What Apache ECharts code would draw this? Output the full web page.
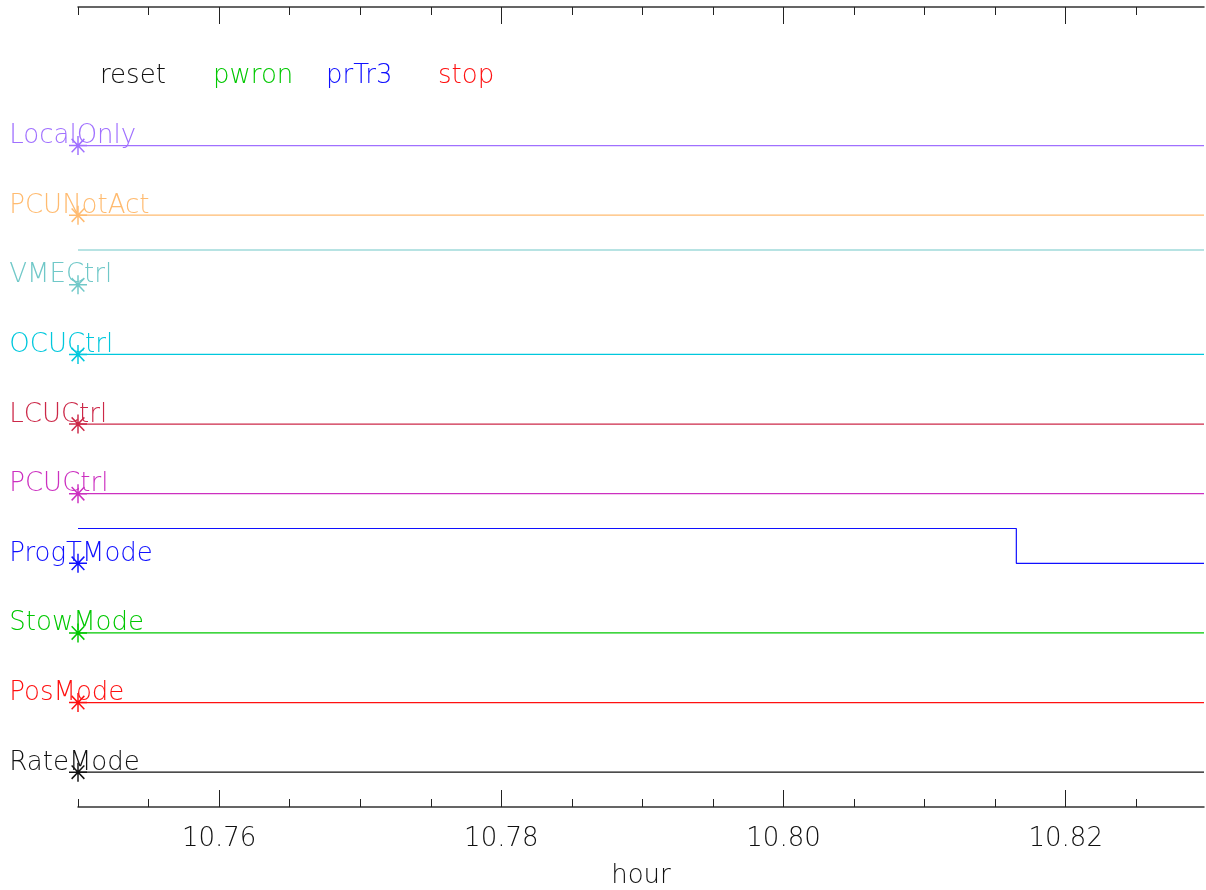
<!DOCTYPE html>
<html>
<head>
<meta charset="utf-8">
<script src="https://cdn.jsdelivr.net/npm/echarts@6/dist/echarts.min.js"></script>
<style>
html,body{margin:0;padding:0;background:#fff;}
#chart{width:1206px;height:890px;}
</style>
</head>
<body>
<div id="chart"></div>
<script>
// ---- data ----
const rowNames = ['RateMode','PosMode','StowMode','ProgTMode','PCUCtrl','LCUCtrl','OCUCtrl','VMECtrl','PCUNotAct','LocalOnly'];
const rowColors = ['#111111','#ff1010','#00c800','#1010ff','#cc30c0','#cc2848','#00c8dd','#70c8c8','#ffbb70','#a070ff'];
// state changes per row: [hour, state]
const rateMode  = [[10.75,0],[10.8298,0]];
const posMode   = [[10.75,0],[10.8298,0]];
const stowMode  = [[10.75,0],[10.8298,0]];
const progTMode = [[10.75,1],[10.8165,0],[10.8298,0]];
const pcuCtrl   = [[10.75,0],[10.8298,0]];
const lcuCtrl   = [[10.75,0],[10.8298,0]];
const ocuCtrl   = [[10.75,0],[10.8298,0]];
const vmeCtrl   = [[10.75,1],[10.8298,1]];
const pcuNotAct = [[10.75,0],[10.8298,0]];
const localOnly = [[10.75,0],[10.8298,0]];
const rowStates = [rateMode,posMode,stowMode,progTMode,pcuCtrl,lcuCtrl,ocuCtrl,vmeCtrl,pcuNotAct,localOnly];
const markerTime = 10.75;

const legendWords = ['reset','pwron','prTr3','stop'];
const legendColors = ['#111111','#00c800','#1010ff','#ff1010'];

const xMin = 10.75, xMax = 10.8298;
const majorTicks = [10.76,10.78,10.80,10.82];
const minorTicks = [10.75,10.755,10.76,10.765,10.77,10.775,10.78,10.785,10.79,10.795,10.80,10.805,10.81,10.815,10.82,10.825];

// ---- chart ----
const FONT = '"DejaVu Sans", sans-serif';
const chart = echarts.init(document.getElementById('chart'), null, {renderer:'canvas'});

const axisBase = (pos, ticks, len, showLine) => ({
  type:'value', min:xMin, max:xMax, position:pos, gridIndex:0,
  axisLine:{show:showLine, onZero:false, lineStyle:{color:'#333', width:1.5}},
  axisTick:{show:true, inside:true, length:len, customValues:ticks, lineStyle:{color:'#222', width:1}},
  axisLabel:{show:false}, splitLine:{show:false}
});

const xAxes = [
  Object.assign(axisBase('bottom', minorTicks, 8, true), {
    axisLabel:{show:true, customValues:majorTicks, formatter:v=>v.toFixed(2), fontFamily:FONT, fontSize:26, fontWeight:200, color:'#111', margin:19},
    name:'hour', nameLocation:'middle', nameGap:56,
    nameTextStyle:{fontFamily:FONT, fontSize:26, fontWeight:200, color:'#111'}
  }),
  axisBase('bottom', majorTicks, 17, false),
  axisBase('top', minorTicks, 8, true),
  axisBase('top', majorTicks, 17, false)
];

const series = [];
rowNames.forEach((name, i) => {
  series.push({
    type:'line', name:name, step:'end', showSymbol:false, silent:true,
    xAxisIndex:0, yAxisIndex:0,
    data: rowStates[i].map(p => [p[0], i + 0.5*p[1]]),
    lineStyle:{color:rowColors[i], width:1.2},
    itemStyle:{color:rowColors[i]},
    animation:false
  });
});
series.push({
  type:'scatter', silent:true, xAxisIndex:0, yAxisIndex:0,
  symbol:'path://M0,-10L0,10M-10,0L10,0M-7.07,-7.07L7.07,7.07M-7.07,7.07L7.07,-7.07',
  symbolSize:[18,19], symbolKeepAspect:false,
  data: rowNames.map((name, i) => ({
    value:[markerTime, i], name:name,
    itemStyle:{color:'rgba(0,0,0,0)', borderColor:rowColors[i], borderWidth:1.5, opacity:1},
    label:{show:true, formatter:name, color:rowColors[i], position:[-59,1], align:'left', verticalAlign:'middle',
      fontFamily:FONT, fontSize:26, fontWeight:200}
  })),
  z:5, animation:false
});

const graphics = legendWords.map((w, k) => ({
  type:'text', left:[100,213,326,438][k], top:63,
  style:{text:w, fill:legendColors[k], font:'200 26px ' + FONT}
}));

chart.setOption({
  backgroundColor:'#ffffff',
  animation:false,
  grid:{left:78, right:2, top:7, bottom:83, containLabel:false, outerBoundsMode:'none'},
  xAxis:xAxes,
  yAxis:{type:'value', min:-0.5, max:10.99, show:false, splitLine:{show:false}},
  series:series,
  graphic:graphics
});
</script>
</body>
</html>
